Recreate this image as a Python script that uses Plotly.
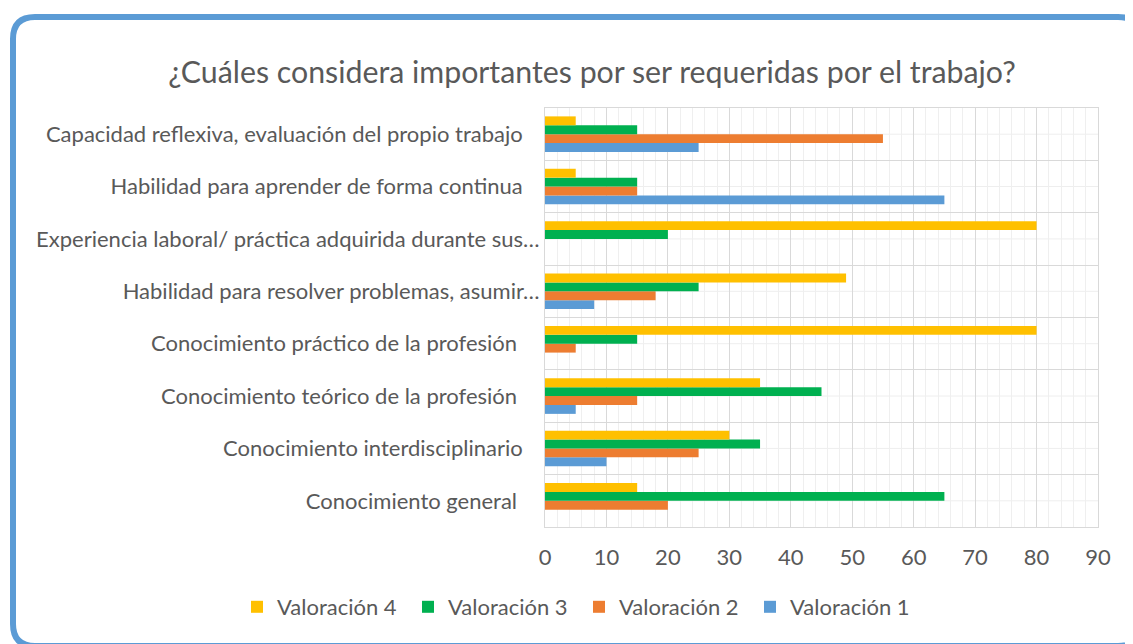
import plotly.graph_objects as go

# --- Data (bottom category first, as plotly draws it) ---
NB = "\u00a0"
categories = [
    "Conocimiento general" + NB * 4,
    "Conocimiento interdisciplinario" + NB * 3,
    "Conocimiento teórico de la profesión" + NB * 4,
    "Conocimiento práctico de la profesión" + NB * 4,
    "Habilidad para resolver problemas, asumir…",
    "Experiencia laboral/ práctica adquirida durante sus…",
    "Habilidad para aprender de forma continua" + NB * 3,
    "Capacidad reflexiva, evaluación del propio trabajo" + NB * 3,
]
valoracion_1 = [0, 10, 5, 0, 8, 0, 65, 25]
valoracion_2 = [20, 25, 15, 5, 18, 0, 15, 55]
valoracion_3 = [65, 35, 45, 15, 25, 20, 15, 15]
valoracion_4 = [15, 30, 35, 80, 49, 80, 5, 5]
x_ticks = [0, 10, 20, 30, 40, 50, 60, 70, 80, 90]

series = [
    ("Valoración 1", valoracion_1, "#5B9BD5"),
    ("Valoración 2", valoracion_2, "#ED7D31"),
    ("Valoración 3", valoracion_3, "#00B050"),
    ("Valoración 4", valoracion_4, "#FFC000"),
]

# page puts the figure 8px in from the corner (body margin)
OFF = 8
W, H = 1133, 644
ML, MT = 545 - OFF, 108 - OFF
MR, MB = W - (1098 - OFF), H - (527 - OFF)
PW, PH = W - ML - MR, H - MT - MB
TEXT = "#595959"
FONT = "Lato"


def px_x(x):
    # screen pixel -> paper fraction
    return (x - OFF - ML) / PW


def px_y(y):
    return (H - MB - (y - OFF)) / PH


fig = go.Figure()
for name, vals, color in series:
    fig.add_trace(go.Bar(
        y=categories, x=vals, name=name, orientation="h",
        marker=dict(color=color, line=dict(width=0)),
    ))

# light lines through the middle of each category
shapes = []
for c in categories:
    shapes.append(dict(type="line", xref="paper", yref="y", x0=0, x1=1, y0=c, y1=c,
                       line=dict(color="#eeeeee", width=1), layer="below"))

# rounded blue frame
x0, x1, y0, y1, r = 13, 1140, 17, 646, 22
path = (f"M {px_x(x0 + r)},{px_y(y0)} L {px_x(x1 - r)},{px_y(y0)} "
        f"Q {px_x(x1)},{px_y(y0)} {px_x(x1)},{px_y(y0 + r)} "
        f"L {px_x(x1)},{px_y(y1 - r)} Q {px_x(x1)},{px_y(y1)} {px_x(x1 - r)},{px_y(y1)} "
        f"L {px_x(x0 + r)},{px_y(y1)} Q {px_x(x0)},{px_y(y1)} {px_x(x0)},{px_y(y1 - r)} "
        f"L {px_x(x0)},{px_y(y0 + r)} Q {px_x(x0)},{px_y(y0)} {px_x(x0 + r)},{px_y(y0)} Z")
shapes.append(dict(type="path", xref="paper", yref="paper", path=path,
                   line=dict(color="#5B9BD5", width=6), layer="above"))

fig.update_layout(
    width=W, height=H,
    margin=dict(l=ML, r=MR, t=MT, b=MB, pad=0, autoexpand=False),
    plot_bgcolor="white", paper_bgcolor="white",
    font=dict(family=FONT, color=TEXT, size=22),
    title=dict(text="¿Cuáles considera importantes por ser requeridas por el trabajo?",
               x=(592 - OFF) / W, xanchor="center", y=1 - (72 - OFF) / H, yanchor="middle",
               font=dict(size=30.3, color=TEXT)),
    barmode="group", bargap=0.32, bargroupgap=0,
    showlegend=True,
    legend=dict(orientation="h", traceorder="reversed",
                x=px_x(237), xanchor="left", y=px_y(607), yanchor="middle",
                entrywidth=126, entrywidthmode="pixels",
                font=dict(size=22, color=TEXT)),
    shapes=shapes,
)
fig.update_xaxes(range=[0, 90], tickvals=x_ticks, showgrid=True, gridcolor="#d9d9d9",
                 gridwidth=1, zeroline=False, showline=True, linecolor="#d9d9d9",
                 mirror=True, ticks="", ticklabelstandoff=11,
                 minor=dict(dtick=2, showgrid=True, gridcolor="#efefef", gridwidth=1))
fig.update_yaxes(type="category", tickson="boundaries", showgrid=True, gridcolor="#d9d9d9",
                 showline=True, linecolor="#d9d9d9", mirror=True, ticks="",
                 ticklabelstandoff=0)

fig.write_html("out.html")
